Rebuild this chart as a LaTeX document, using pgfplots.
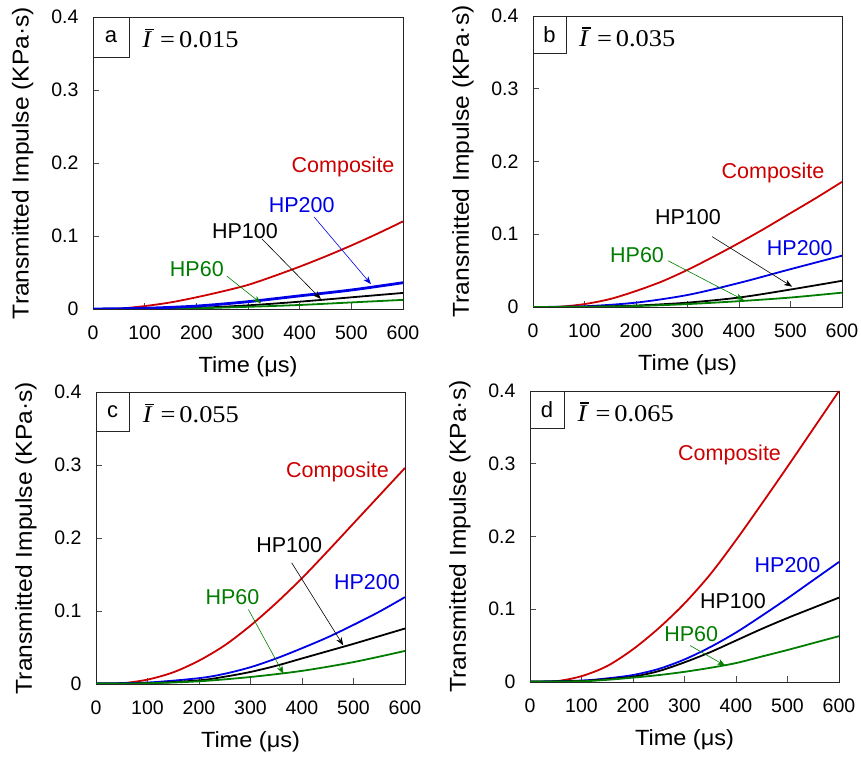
\documentclass[border=0pt]{standalone}
\usepackage{fontspec}
\setmainfont{Liberation Sans}
\newfontfamily\tnr{Liberation Serif}[FakeStretch=1.1]
\newfontfamily\labfont{Liberation Sans}[FakeStretch=1.07]
\usepackage{pgfplots}
\pgfplotsset{compat=1.18}
\usetikzlibrary{arrows.meta}

\definecolor{cred}{RGB}{204,0,0}
\definecolor{cblue}{RGB}{0,0,230}
\definecolor{cgreen}{RGB}{0,125,0}

\newcommand{\annfont}{\fontsize{21.5}{25}\selectfont}
\newcommand{\boxfont}{\fontsize{22}{26}\selectfont}
\newcommand{\ifont}{\tnr\fontsize{24}{28}\selectfont}
\newcommand{\Ibar}{\makebox[0pt][l]{\hspace{2.5pt}\raisebox{17.5pt}{\rule{9pt}{1.1pt}}}\textit{I}}
\tikzset{ann/.style={line width=0.6pt,-{Stealth[length=8pt,width=6pt,inset=2.5pt]}}}

\pgfplotsset{
  panel/.style={
    scale only axis, width=309pt, height=292pt,
    xmin=0, xmax=600, ymin=0, ymax=0.4,
    xtick={0,100,200,300,400,500,600},
    ytick={0,0.1,0.2,0.3,0.4},
    tick align=inside, xtick pos=bottom, ytick pos=left,
    major tick length=6pt,
    tick style={color=black!70, line width=0.6pt},
    axis line style={line width=0.8pt, color=black!85},
    /pgf/number format/assume math mode=true,
    ticklabel style={font=\fontsize{19.5}{23}\selectfont},
    yticklabel style={/pgf/number format/fixed, /pgf/number format/precision=1},
    yticklabel shift=11pt,
    xticklabel shift=13pt,
    xlabel={Time (μs)},
    ylabel={Transmitted Impulse (KPa·s)},
    x label style={font=\labfont\fontsize{22}{26}\selectfont, at={(axis description cs:0.5,-0.199)}, anchor=center},
    y label style={font=\labfont\fontsize{23}{27}\selectfont, at={(axis description cs:-0.2265,0.5)}, anchor=center},
    every axis plot/.append style={line width=1.8pt, no markers, smooth, tension=0.5},
  }
}

\begin{document}
\begin{tikzpicture}[x=1pt,y=1pt]
\useasboundingbox (0,0) rectangle (861,759);

% ---------------- panel a ----------------
\begin{axis}[panel, at={(93pt,450pt)}, anchor=south west, width=310pt]
\addplot[cred] coordinates {(0,0) (50,0.0005) (100,0.004) (150,0.009) (200,0.016) (250,0.024) (300,0.033) (350,0.045) (400,0.058) (450,0.072) (500,0.087) (550,0.103) (600,0.12)};
\addplot[black] coordinates {(0,0) (100,0.0003) (200,0.0015) (300,0.005) (400,0.010) (500,0.016) (600,0.022)};
\addplot[cgreen] coordinates {(0,0) (100,0.0002) (200,0.001) (300,0.003) (400,0.0055) (500,0.009) (600,0.0125)};
\addplot[cblue, line width=2.8pt] coordinates {(0,0) (100,0.001) (200,0.004) (300,0.010) (400,0.018) (500,0.026) (600,0.036)};
\node[cred, font=\annfont] at (axis cs:484,0.1945) {Composite};
\node[cblue, font=\annfont] at (axis cs:404,0.1425) {HP200};
\draw[cblue, ann] (axis cs:428,0.126) -- (axis cs:538,0.034);
\node[black, font=\annfont] at (axis cs:294,0.107) {HP100};
\draw[black, ann] (axis cs:327,0.096) -- (axis cs:441,0.0137);
\node[cgreen, font=\annfont] at (axis cs:201,0.055) {HP60};
\draw[cgreen, ann] (axis cs:259,0.045) -- (axis cs:325,0.008);
\draw[line width=0.8pt, black!85] (rel axis cs:0,0.863) -| (rel axis cs:0.116,1);
\node[font=\boxfont] at (rel axis cs:0.058,0.932) {a};
\node[anchor=west, font=\ifont] at (rel axis cs:0.148,0.928) {\Ibar\hspace{8pt}=\hspace{4pt}0.015};
\end{axis}

% ---------------- panel b ----------------
\begin{axis}[panel, at={(533pt,452pt)}, anchor=south west, height=291pt]
\addplot[cred] coordinates {(0,0) (50,0.0003) (100,0.004) (150,0.011) (200,0.022) (250,0.035) (300,0.051) (350,0.069) (400,0.088) (450,0.108) (500,0.129) (550,0.150) (600,0.172)};
\addplot[cblue] coordinates {(0,0) (100,0.001) (200,0.006) (300,0.0165) (400,0.033) (500,0.052) (600,0.0705)};
\addplot[black] coordinates {(0,0) (100,0.0004) (200,0.002) (300,0.006) (400,0.013) (500,0.024) (600,0.036)};
\addplot[cgreen] coordinates {(0,0) (100,0.0003) (200,0.0013) (300,0.004) (400,0.008) (500,0.013) (600,0.0197)};
\node[cred, font=\annfont] at (axis cs:466,0.1845) {Composite};
\node[black, font=\annfont] at (axis cs:301,0.123) {HP100};
\draw[black, ann] (axis cs:348,0.0966) -- (axis cs:503,0.028);
\node[cblue, font=\annfont] at (axis cs:518,0.0806) {HP200};
\node[cgreen, font=\annfont] at (axis cs:202,0.0714) {HP60};
\draw[cgreen, ann] (axis cs:262,0.0636) -- (axis cs:409,0.0096);
\draw[line width=0.8pt, black!85] (rel axis cs:0,0.87) -| (rel axis cs:0.107,1);
\node[font=\boxfont] at (rel axis cs:0.0535,0.935) {b};
\node[anchor=west, font=\ifont] at (rel axis cs:0.138,0.928) {\Ibar\hspace{8pt}=\hspace{4pt}0.035};
\end{axis}

% ---------------- panel c ----------------
\begin{axis}[panel, at={(96pt,75pt)}, anchor=south west]
\addplot[cred] coordinates {(0,0) (50,0.001) (100,0.006) (150,0.016) (200,0.032) (250,0.053) (300,0.080) (350,0.111) (400,0.145) (450,0.182) (500,0.220) (550,0.258) (600,0.296)};
\addplot[cblue] coordinates {(0,0.001) (100,0.002) (200,0.008) (250,0.014) (300,0.023) (350,0.035) (400,0.049) (450,0.064) (500,0.081) (550,0.099) (600,0.119)};
\addplot[black] coordinates {(0,0.0005) (100,0.001) (200,0.005) (250,0.010) (300,0.0165) (350,0.025) (400,0.035) (450,0.045) (500,0.055) (550,0.0655) (600,0.076)};
\addplot[cgreen] coordinates {(0,0.0005) (100,0.001) (200,0.0037) (300,0.0096) (400,0.018) (500,0.030) (600,0.0453)};
\node[cred, font=\annfont] at (axis cs:469,0.291) {Composite};
\node[black, font=\annfont] at (axis cs:375,0.190) {HP100};
\draw[black, ann] (axis cs:380,0.166) -- (axis cs:480,0.053);
\node[cblue, font=\annfont] at (axis cs:526,0.140) {HP200};
\node[cgreen, font=\annfont] at (axis cs:265,0.1185) {HP60};
\draw[cgreen, ann] (axis cs:296,0.102) -- (axis cs:364,0.014);
\draw[line width=0.8pt, black!85] (rel axis cs:0,0.866) -| (rel axis cs:0.108,1);
\node[font=\boxfont] at (rel axis cs:0.054,0.933) {c};
\node[anchor=west, font=\ifont] at (rel axis cs:0.14,0.928) {\Ibar\hspace{8pt}=\hspace{4pt}0.055};
\end{axis}

% ---------------- panel d ----------------
\begin{axis}[panel, at={(530pt,77pt)}, anchor=south west, height=291pt]
\addplot[cred] coordinates {(0,0) (50,0.001) (100,0.008) (150,0.022) (200,0.045) (250,0.074) (300,0.108) (350,0.148) (400,0.195) (450,0.245) (500,0.296) (550,0.348) (600,0.40)};
\addplot[cblue] coordinates {(0,0.0005) (100,0.002) (150,0.005) (200,0.0096) (250,0.018) (300,0.031) (350,0.048) (400,0.068) (450,0.091) (500,0.115) (550,0.140) (600,0.165)};
\addplot[black] coordinates {(0,0.0005) (100,0.0015) (150,0.004) (200,0.0073) (250,0.015) (300,0.027) (350,0.041) (400,0.057) (450,0.073) (500,0.088) (550,0.102) (600,0.116)};
\addplot[cgreen] coordinates {(0,0.0005) (100,0.001) (150,0.003) (200,0.006) (250,0.0095) (300,0.014) (350,0.0195) (400,0.026) (450,0.035) (500,0.044) (550,0.0535) (600,0.063)};
\node[cred, font=\annfont] at (axis cs:387.5,0.312) {Composite};
\node[cblue, font=\annfont] at (axis cs:500,0.161) {HP200};
\node[black, font=\annfont] at (axis cs:394,0.111) {HP100};
\node[cgreen, font=\annfont] at (axis cs:313,0.066) {HP60};
\draw[cgreen, ann] (axis cs:311,0.050) -- (axis cs:379,0.0225);
\draw[line width=0.8pt, black!85] (rel axis cs:0,0.873) -| (rel axis cs:0.11,1);
\node[font=\boxfont] at (rel axis cs:0.055,0.936) {d};
\node[anchor=west, font=\ifont] at (rel axis cs:0.143,0.928) {\Ibar\hspace{8pt}=\hspace{4pt}0.065};
\end{axis}
\end{tikzpicture}
\end{document}
